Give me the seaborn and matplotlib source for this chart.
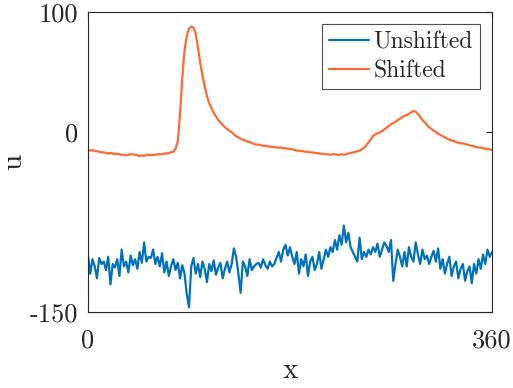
import numpy as np
import pandas as pd
import seaborn as sns
import matplotlib
matplotlib.use("Agg")
import matplotlib.pyplot as plt

# x grid (degrees), every 2
x_deg = list(range(0, 361, 2))

unshifted = [
    -103, -118, -106, -112, -122, -105, -110, -108, -115, -104, -127, -110, -113, -106,
    -120, -98, -112, -108, -117, -103, -111, -106, -114, -100, -109, -92, -108, -104,
    -105, -98, -110, -104, -112, -101, -117, -108, -120, -112, -106, -115, -109, -122,
    -111, -118, -135, -146,
    -112, -105, -118, -110, -121, -108, -114, -125, -110, -116, -107, -119, -113, -109,
    -122, -114, -108, -117,
    -110, -97, -104, -118, -134, -108, -112, -120, -106, -115, -112, -110, -109, -113,
    -106, -111, -114, -108, -112, -110, -105, -100, -108, -98, -94, -103, -96,
    -104, -110, -100, -118, -106, -112, -102, -120, -108, -104, -115, -110, -100, -114,
    -106, -98, -104, -96, -100, -90, -98, -86, -94, -78, -92, -84,
    -96, -100, -104, -108, -88, -106, -100, -104, -98, -102, -96, -100, -93, -104,
    -98, -92, -95, -100, -90, -124, -110, -98, -104, -112,
    -100, -112, -96, -104, -108, -92, -102, -110, -98, -106,
    -103, -110, -104, -99, -108, -97, -114, -106, -118, -110,
    -104, -120, -112, -108, -122, -114, -110, -124, -116, -112,
    -126, -110, -118, -106, -114, -102, -110, -98, -104, -100,
]

shifted = [
    -15, -15.5, -15, -16, -16, -16.5, -17, -17, -17.5, -18, -17.5, -18, -18.5, -18,
    -18.5, -19, -19, -19.5, -19, -18.5, -18.5, -19, -19.5, -20, -19.5, -20, -19, -19,
    -19.5, -19, -19, -18.5, -18.5, -18.5, -18, -18, -17.5, -17, -16.5, -14, -8, 15,
    45, 68, 80, 86, 88, 87, 82, 70, 58, 47, 38, 30, 24, 20, 16, 13, 10, 8, 6, 4, 2.5,
    1, 0, -2, -3.5, -4.5, -5.5, -6.5, -7, -8, -8.5, -9, -10, -10.5, -10.5, -11, -11.5,
    -11.5, -12, -12, -12.5, -12.5, -13, -13, -13, -13.5, -13.5, -14, -14, -14.5, -15,
    -15.5, -15.5, -16, -16, -16.5, -16.5, -17, -17, -17.5, -17.5, -18, -18, -18.5,
    -18.5, -18.5, -19, -18.5, -18.5, -19, -19, -18.5, -19, -18.5, -18, -17.5, -17,
    -16.5, -16, -15.5, -14.5, -13, -11, -8.5, -6, -3.5, -2, -1, -0.5, 1, 2, 3.5, 5,
    6.5, 7.5, 8.5, 10, 11, 12.5, 13.5, 14, 15, 16.5, 17.5, 17, 15, 12.5, 10, 8, 6, 4,
    2.5, 1, 0, -1.5, -2.5, -3.5, -4.5, -5.5, -6.5, -7, -7.5, -8.5, -9, -9.5, -9.5,
    -10, -10.5, -11, -11.5, -12, -12.5, -13, -13, -13.5, -14, -14, -14.5, -15,
]

series_names = ["Unshifted", "Shifted"]
colors = ["#0072BD", "#FF6A32"]

df = pd.concat([
    pd.DataFrame({"x": x_deg, "u": unshifted, "series": series_names[0]}),
    pd.DataFrame({"x": x_deg, "u": shifted, "series": series_names[1]}),
])

sns.set_theme(style="white")
plt.rcParams["font.family"] = ["cmr10", "DejaVu Serif"]
plt.rcParams["axes.unicode_minus"] = False

fig = plt.figure(figsize=(5.13, 3.88), dpi=100)
ax = fig.add_axes([88 / 513, 1 - 312 / 388, 404 / 513, 300 / 388])

sns.lineplot(data=df, x="x", y="u", hue="series", palette=colors,
             linewidth=1.6, ax=ax, legend=True)

ax.set_xlim(0, 360)
ax.set_ylim(-150, 100)
ax.set_xticks([0, 360], ["0", "360"])
ax.set_yticks([-150, 0, 100], ["-150", "0", "100"])
ax.tick_params(direction="in", length=4, width=0.8, top=True, right=True,
               labelsize=19, colors="#262626")
ax.tick_params(axis="x", pad=12)
ax.tick_params(axis="y", pad=7)
for s in ax.spines.values():
    s.set_color("#262626")
    s.set_linewidth(0.8)

ax.set_xlabel("x", fontsize=21, labelpad=4)
ax.set_ylabel("u", fontsize=21, labelpad=2)

leg = ax.legend(loc="upper right", fontsize=17, frameon=True, fancybox=False,
                edgecolor="#262626", handlelength=1.7, handletextpad=0.2,
                borderpad=0.3, labelspacing=0.3, borderaxespad=0.5)
leg.get_frame().set_linewidth(0.8)

fig.savefig("out.png", dpi=100)
